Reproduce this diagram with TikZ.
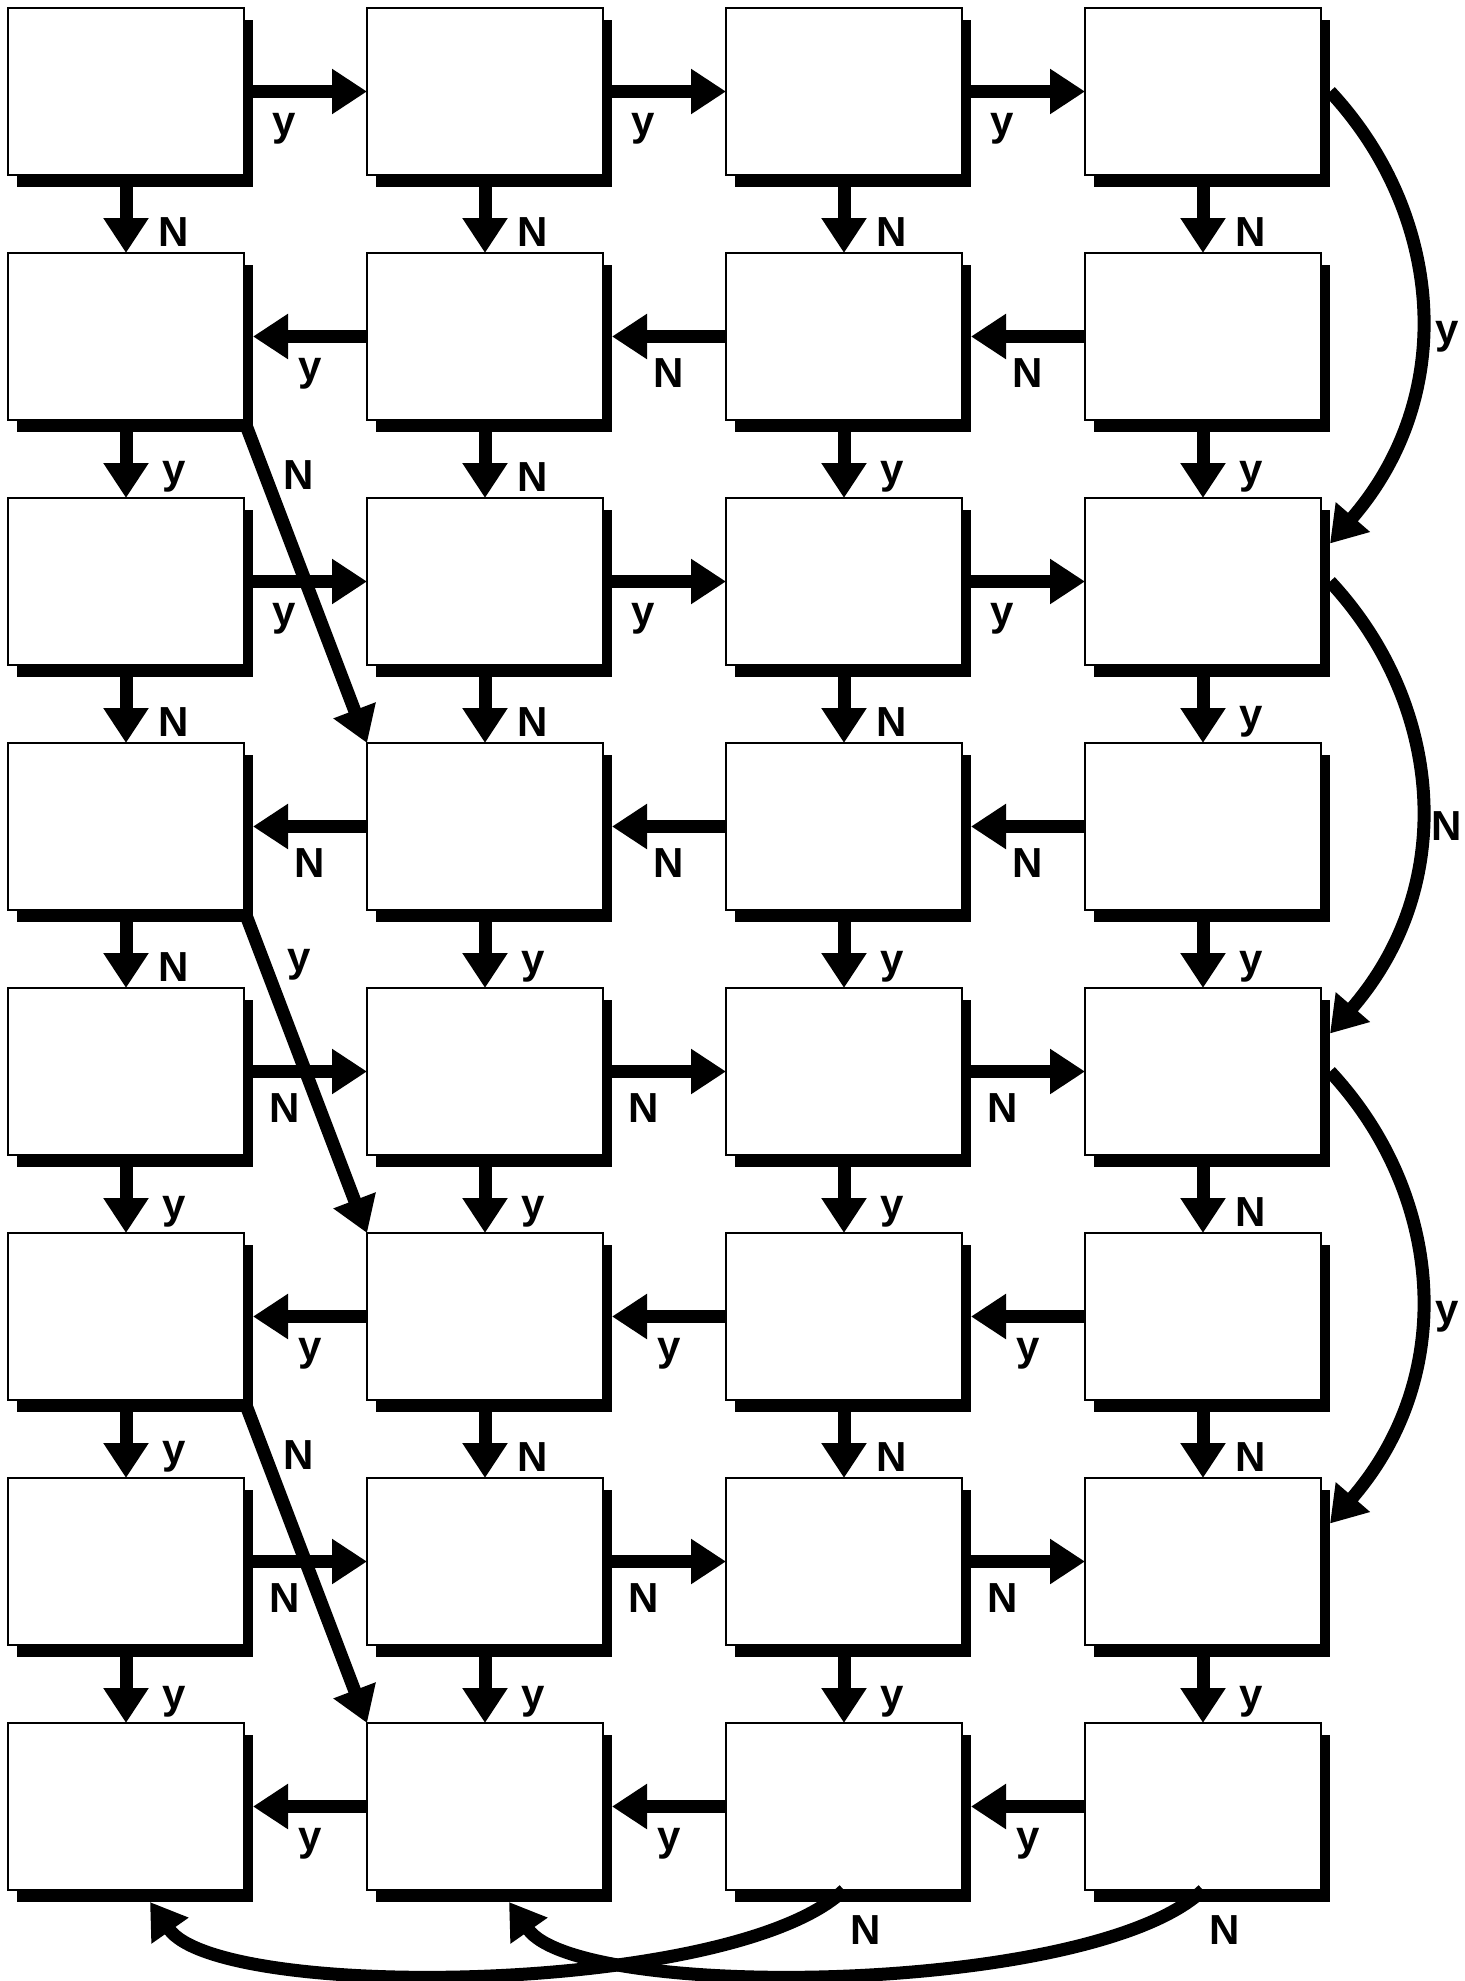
\documentclass[tikz,border=0pt]{standalone}
\usepackage{fontspec}
\setsansfont{Liberation Sans}
\usetikzlibrary{arrows.meta,shadows}

\tikzset{
  qbox/.style={draw, line width=1.1pt, fill=white, inner sep=0pt, outer sep=0pt,
    minimum width=118pt, minimum height=83.5pt,
    drop shadow={shadow xshift=4.5pt, shadow yshift=-6pt, fill=black, opacity=1}},
  flow/.style={line width=6.5pt, -{Triangle[length=17.5pt, width=21.5pt]}},
  yn/.style={font=\sffamily\bfseries\fontsize{21}{25}\selectfont, inner sep=0pt}
}

\begin{document}
\begin{tikzpicture}[x=0.5pt, y=-0.5pt]
  \useasboundingbox (0,0) rectangle (1465,1981);
  % question boxes, 8 rows of 4
  \foreach \row in {1,...,8}
    \foreach \col in {1,...,4}
      \node[qbox] (b\row\col) at ({126+359*(\col-1)}, {91.5+245*(\row-1)}) {};
  % across, odd rows run right
  \foreach \row/\la/\lb/\lc in {1/y/y/y, 3/y/y/y, 5/N/N/N, 7/N/N/N}
    \foreach \col/\nxt/\t in {1/2/\la, 2/3/\lb, 3/4/\lc}
      \draw[flow] (b\row\col.east) -- (b\row\nxt.west)
        node[yn, pos=0.33, yshift=-18.5pt] (h\row\col) {\t};
  % across, even rows run left
  \foreach \row/\la/\lb/\lc in {2/y/N/N, 4/N/N/N, 6/y/y/y, 8/y/y/y}
    \foreach \col/\nxt/\t in {1/2/\la, 2/3/\lb, 3/4/\lc}
      \draw[flow] (b\row\nxt.west) -- ([xshift=4.5pt]b\row\col.east)
        node[yn, pos=0.5, yshift=-18.5pt] (h\row\col) {\t};
  % down
  \foreach \row/\nxt/\la/\lb/\lc/\ld in {1/2/N/N/N/N, 2/3/y/N/y/y, 3/4/N/N/N/y,
      4/5/N/y/y/y, 5/6/y/y/y/N, 6/7/y/N/N/N, 7/8/y/y/y/y}
    \foreach \col/\t in {1/\la, 2/\lb, 3/\lc, 4/\ld}
      \draw[flow] (b\row\col.south) -- (b\nxt\col.north)
        node[yn, pos=0.73, xshift=24pt] (v\row\col) {\t};
  % skips down the left side
  \foreach \row/\nxt/\t in {2/4/N, 4/6/y, 6/8/N}
    \draw[flow] (b\row1.south east) -- (b\nxt2.north west)
      node[yn, pos=0.17, xshift=17pt] (d\row) {\t};
  % loops down the right side
  \foreach \row/\nxt/\via/\t in {1/3/2/y, 3/5/4/N, 5/7/6/y}{
    \draw[flow] ([xshift=4.5pt]b\row4.east) .. controls +(112,120) and +(130,-150)
      .. ([shift={(4.5pt,19pt)}]b\nxt4.east);
    \node[yn] (r\row) at ([xshift=63pt]b\via4.east) {\t};
  }
  % back along the bottom
  \foreach \col/\dst/\t in {3/1/N, 4/2/N}{
    \draw[flow] (b8\col.south) .. controls +(-110,105) and +(70,100)
      .. ([shift={(12pt,-6pt)}]b8\dst.south);
    \node[yn] (u\col) at ([shift={(11pt,-20pt)}]b8\col.south) {\t};
  }
\end{tikzpicture}
\end{document}
